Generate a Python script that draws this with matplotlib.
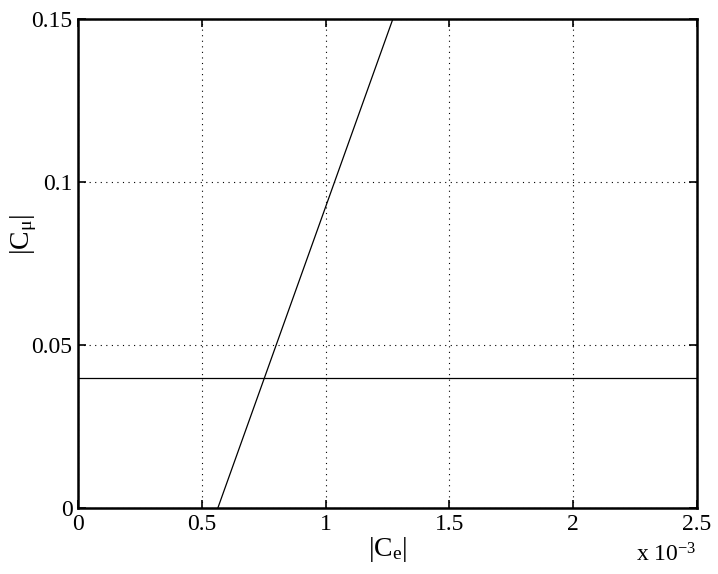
import matplotlib.pyplot as plt
import numpy as np

# sloped line (|Ce| vs |Cmu|) and constant level
ce_line = [0.565e-3, 1.272e-3]
cmu_line = [0.0, 0.15]
ce_flat = [0.0, 2.5e-3]
cmu_flat = [0.04, 0.04]

xticks = [0, 0.5e-3, 1.0e-3, 1.5e-3, 2.0e-3, 2.5e-3]
xtick_labels = ["0", "0.5", "1", "1.5", "2", "2.5"]
yticks = [0, 0.05, 0.1, 0.15]
ytick_labels = ["0", "0.05", "0.1", "0.15"]

plt.rcParams["font.family"] = ["Liberation Serif", "DejaVu Serif"]
plt.rcParams["mathtext.fontset"] = "custom"
plt.rcParams["mathtext.rm"] = "Liberation Serif"
plt.rcParams["mathtext.it"] = "Liberation Serif:italic"

fig = plt.figure(figsize=(7.18, 5.74), dpi=100)
ax = fig.add_axes([0.1086, 0.115, 0.862, 0.852])

ax.plot(ce_line, cmu_line, color="black", linewidth=0.9)
ax.plot(ce_flat, cmu_flat, color="black", linewidth=0.9)

ax.set_xlim(0, 2.5e-3)
ax.set_ylim(0, 0.15)
ax.set_xticks(xticks)
ax.set_xticklabels(xtick_labels, fontsize=17)
ax.set_yticks(yticks)
ax.set_yticklabels(ytick_labels, fontsize=17)

ax.grid(True, linestyle=(0, (1, 4)), color="black", linewidth=0.8)
ax.tick_params(direction="in", length=6, width=1.2, top=True, right=True, pad=4)
for s in ax.spines.values():
    s.set_linewidth(1.8)

ax.set_xlabel(r"$|\mathrm{C_e}|$", fontsize=20, labelpad=0)
ax.set_ylabel(r"$|\mathrm{C_{μ}}|$", fontsize=20)
ax.yaxis.set_label_coords(-0.063, 0.56)
ax.text(1.0, -0.072, r"x 10$^{-3}$", transform=ax.transAxes,
        ha="right", va="top", fontsize=17)

fig.savefig("out.png", dpi=100)
